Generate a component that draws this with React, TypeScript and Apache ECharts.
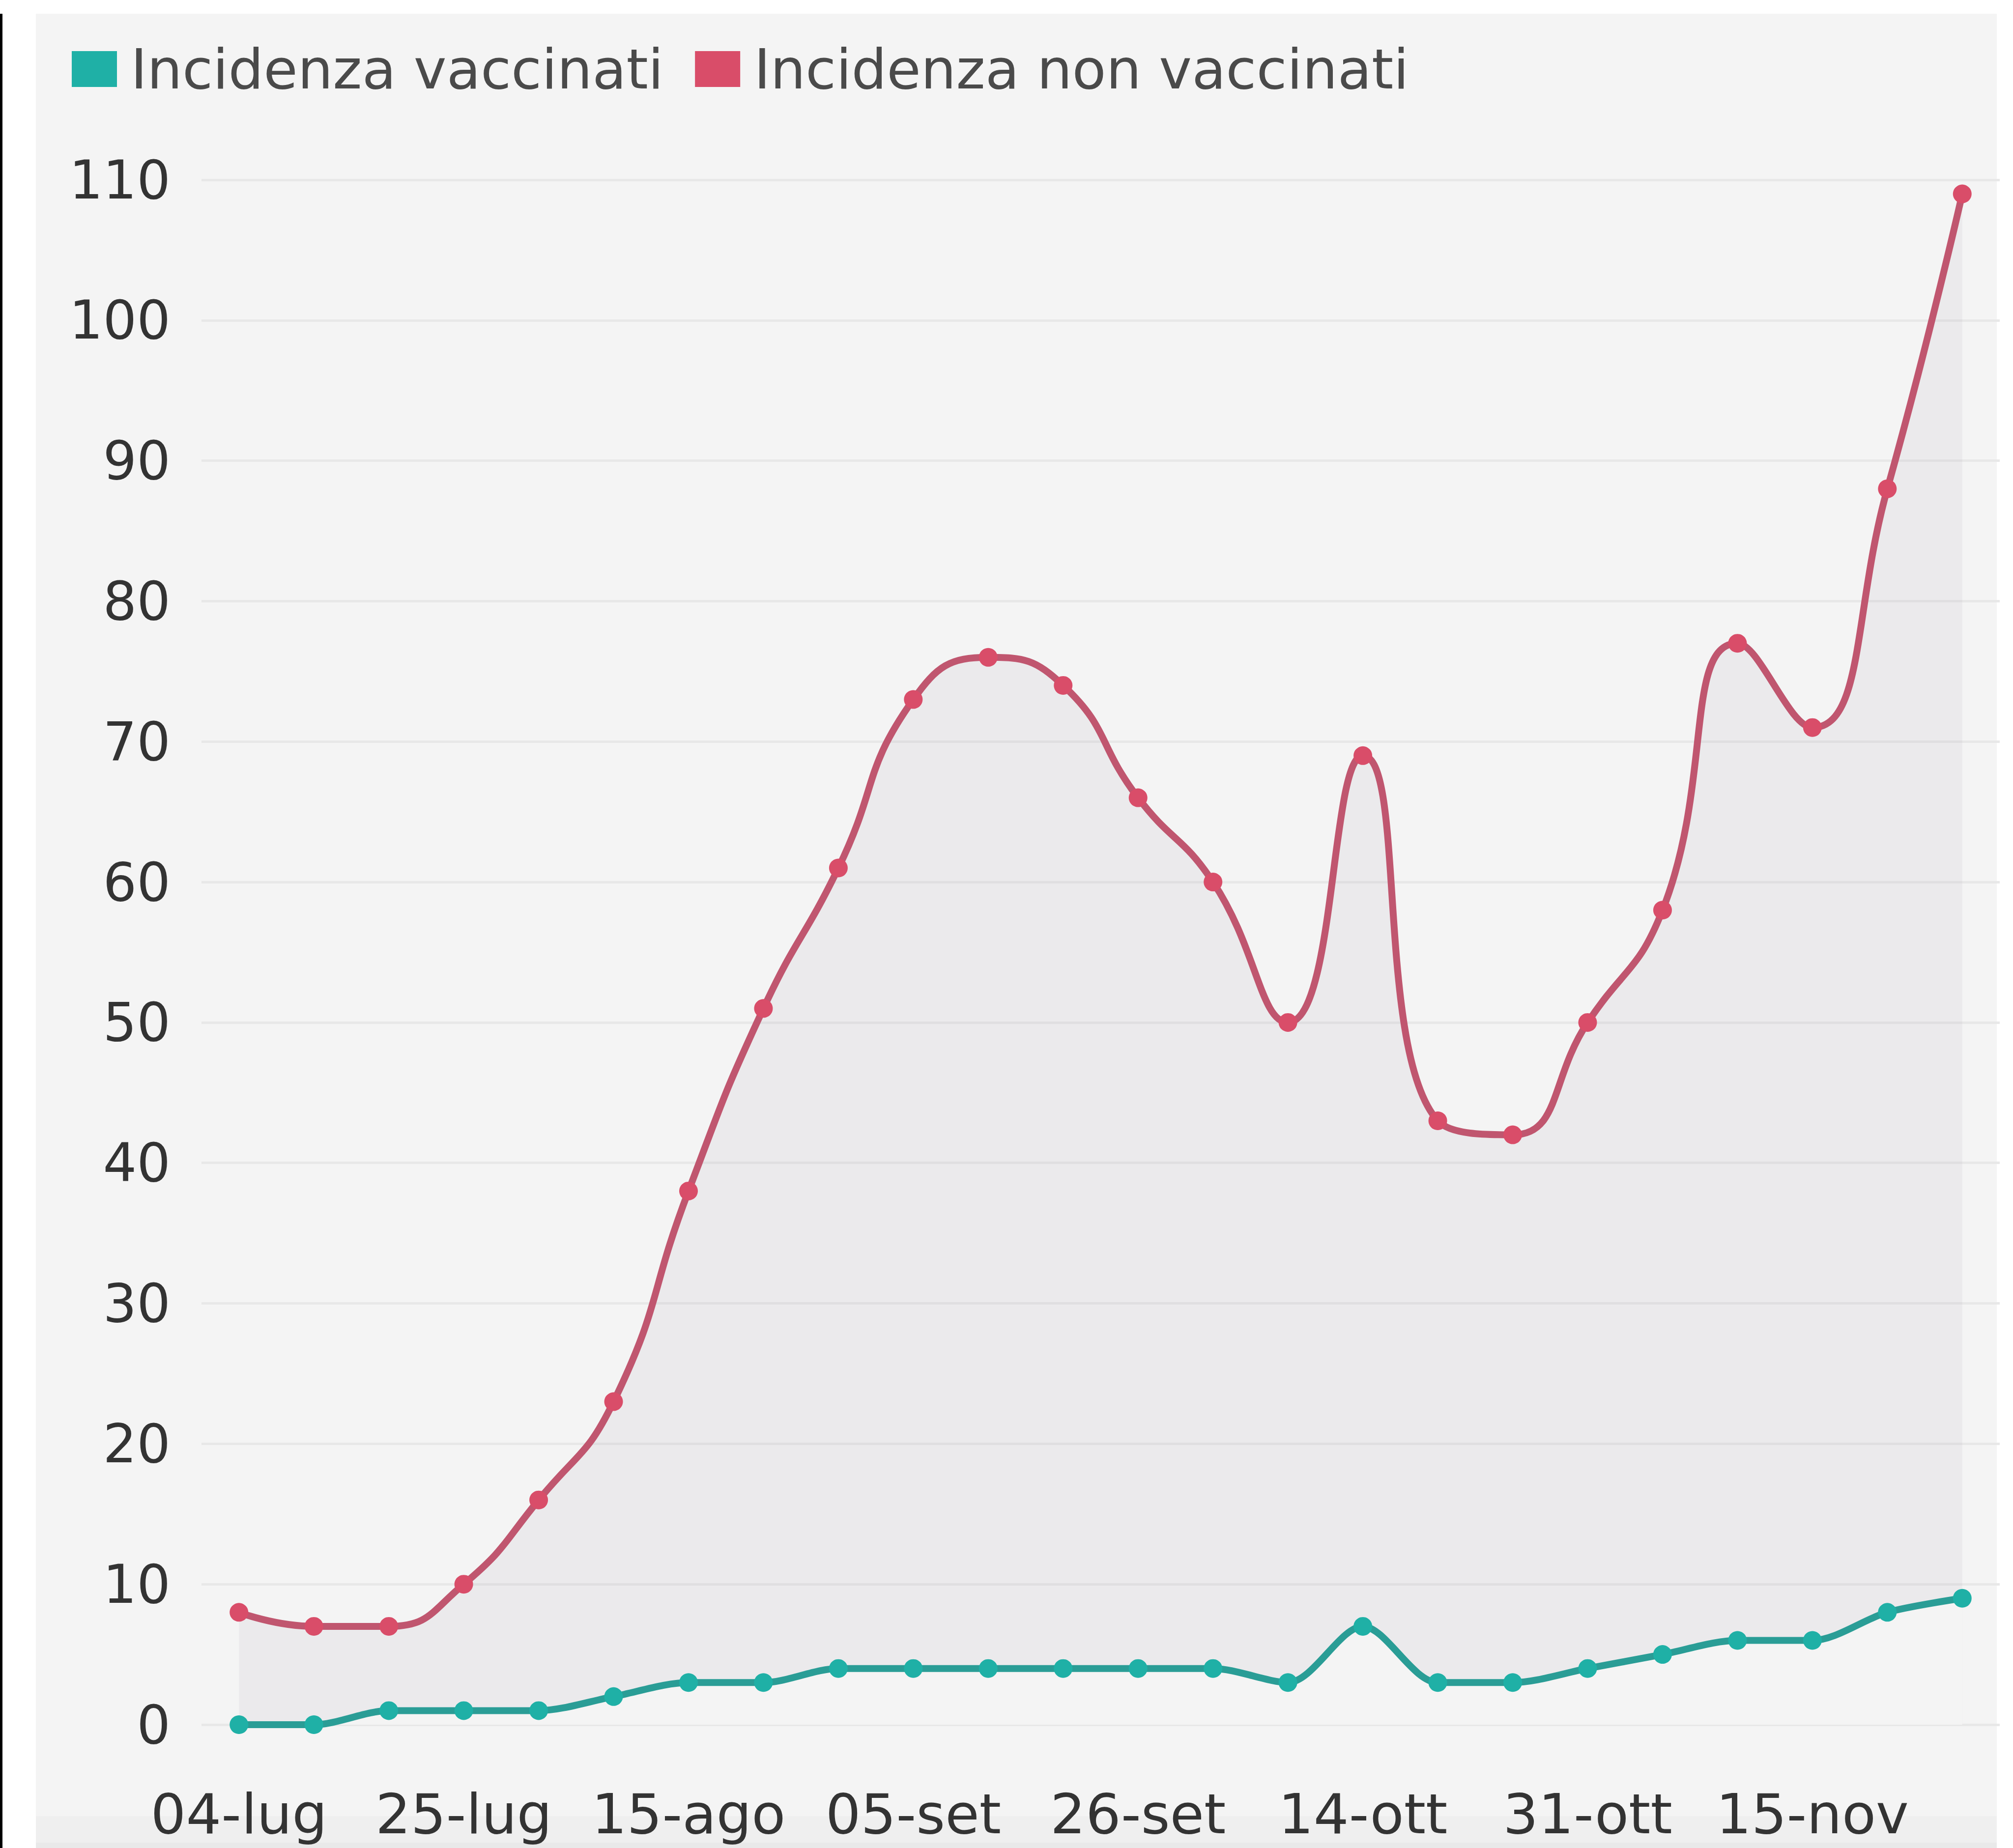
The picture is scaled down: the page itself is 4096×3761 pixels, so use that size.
import React, { useEffect, useRef } from "react";
import * as echarts from "echarts";

const dates = [
  "04-lug", "11-lug", "18-lug", "25-lug", "01-ago", "08-ago", "15-ago", "22-ago",
  "29-ago", "05-set", "12-set", "19-set", "26-set", "02-ott", "08-ott", "14-ott",
  "20-ott", "25-ott", "31-ott", "05-nov", "10-nov", "15-nov", "20-nov", "25-nov",
];
const vaccinati = [0, 0, 1, 1, 1, 2, 3, 3, 4, 4, 4, 4, 4, 4, 3, 7, 3, 3, 4, 5, 6, 6, 8, 9];
const nonVaccinati = [8, 7, 7, 10, 16, 23, 38, 51, 61, 73, 76, 74, 66, 60, 50, 69, 43, 42, 50, 58, 77, 71, 88, 109];
const seriesNames = ["Incidenza vaccinati", "Incidenza non vaccinati"];

const W = 4096;
const H = 3761;

export default function App() {
  const ref = useRef<HTMLDivElement>(null);
  useEffect(() => {
    if (!ref.current) return;
    const chart = echarts.init(ref.current, null, { renderer: "svg" });
    const font = "DejaVu Sans";
    chart.setOption({
      animation: false,
      backgroundColor: "#ffffff",
      graphic: [
        { type: "rect", z: -10, shape: { x: 0, y: 28, width: 5, height: H - 28 }, style: { fill: "#000000" } },
        { type: "rect", z: -10, shape: { x: 73, y: 28, width: 3990, height: H - 28 }, style: { fill: "#f4f4f4" } },
        { type: "rect", z: -9, shape: { x: 73, y: 3696, width: 3990, height: H - 3696 }, style: { fill: "#efefef" } },
        { type: "rect", z: -9, shape: { x: 73, y: 3750, width: 3990, height: H - 3750 }, style: { fill: "#e9e9e9" } },
      ],
      legend: {
        left: 141,
        top: 79,
        itemWidth: 92,
        itemHeight: 73,
        itemGap: 64,
        icon: "rect",
        itemStyle: { borderWidth: 0 },
        textStyle: {
          fontFamily: font,
          fontSize: 113,
          color: "#4a4a4a",
          padding: [0, 0, 0, 23],
          lineHeight: 73,
        },
        data: seriesNames,
      },
      grid: { left: 410, right: 27, top: 366, bottom: H - 3510, containLabel: false },
      xAxis: {
        type: "category",
        data: dates,
        boundaryGap: true,
        axisLine: { show: false },
        axisTick: { show: false },
        splitLine: { show: false },
        axisLabel: {
          interval: 2,
          margin: 125,
          fontFamily: font,
          fontSize: 113,
          color: "#333333",
        },
      },
      yAxis: {
        type: "value",
        min: 0,
        max: 110,
        interval: 10,
        axisLine: { show: false },
        axisTick: { show: false },
        splitLine: { lineStyle: { color: "#e8e8e8", width: 5 } },
        axisLabel: {
          margin: 63,
          fontFamily: font,
          fontSize: 108,
          color: "#333333",
        },
      },
      series: [
        {
          name: seriesNames[0],
          type: "line",
          data: vaccinati,
          smooth: 0.3,
          z: 4,
          symbol: "circle",
          symbolSize: 38,
          itemStyle: { color: "#1fb0a6" },
          lineStyle: { color: "#2a9d96", width: 14 },
          areaStyle: { color: "#f4f4f4", opacity: 1 },
        },
        {
          name: seriesNames[1],
          type: "line",
          data: nonVaccinati,
          smooth: 0.5,
          z: 3,
          symbol: "circle",
          symbolSize: 38,
          itemStyle: { color: "#d94d69" },
          lineStyle: { color: "#c0566f", width: 14 },
          areaStyle: { color: "rgba(170,160,178,0.16)" },
        },
      ],
    });
    return () => chart.dispose();
  }, []);
  return (
    <div
      ref={ref}
      style={{ position: "fixed", left: 0, top: 0, width: W, height: H }}
    />
  );
}
